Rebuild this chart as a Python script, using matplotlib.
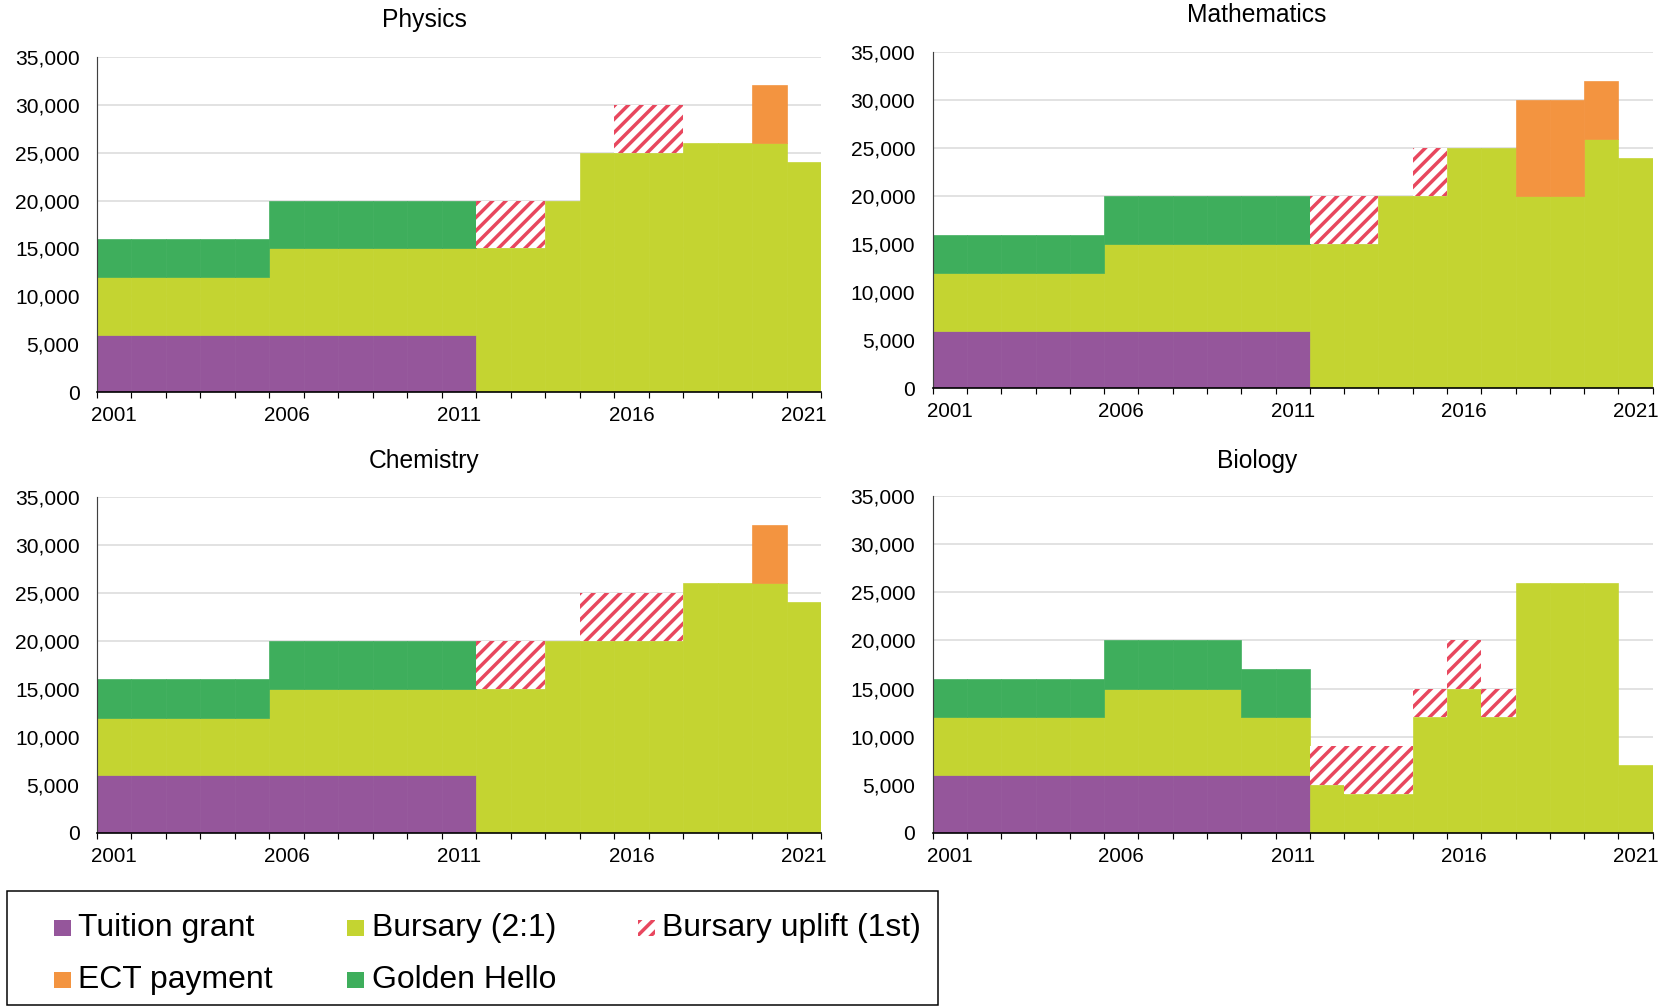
import matplotlib
matplotlib.use("Agg")
import matplotlib.pyplot as plt
from matplotlib.patches import Rectangle
from matplotlib.ticker import FixedLocator, FuncFormatter
import numpy as np

plt.rcParams['font.family'] = ['Liberation Sans', 'DejaVu Sans']
plt.rcParams['hatch.linewidth'] = 2.1

# ---------------- data ----------------
years = list(range(2001, 2022))
year_labels = ["2001", "2006", "2011", "2016", "2021"]
y_ticks = [0, 5000, 10000, 15000, 20000, 25000, 30000, 35000]

series_names = ["Tuition grant", "Bursary (2:1)", "Golden Hello", "Bursary uplift (1st)", "ECT payment"]

physics_tuition = [6000]*11 + [0]*10
physics_bursary = [6000]*5 + [9000]*6 + [15000, 15000, 20000, 25000, 25000, 25000, 26000, 26000, 26000, 24000]
physics_golden = [4000]*5 + [5000]*6 + [0]*10
physics_uplift = [0]*11 + [5000, 5000, 0, 0, 5000, 5000, 0, 0, 0, 0]
physics_ect = [0]*19 + [6000, 0]

maths_tuition = [6000]*11 + [0]*10
maths_bursary = [6000]*5 + [9000]*6 + [15000, 15000, 20000, 20000, 25000, 25000, 20000, 20000, 26000, 24000]
maths_golden = [4000]*5 + [5000]*6 + [0]*10
maths_uplift = [0]*11 + [5000, 5000, 0, 5000, 0, 0, 0, 0, 0, 0]
maths_ect = [0]*17 + [10000, 10000, 6000, 0]

chemistry_tuition = [6000]*11 + [0]*10
chemistry_bursary = [6000]*5 + [9000]*6 + [15000, 15000, 20000, 20000, 20000, 20000, 26000, 26000, 26000, 24000]
chemistry_golden = [4000]*5 + [5000]*6 + [0]*10
chemistry_uplift = [0]*11 + [5000, 5000, 0, 5000, 5000, 5000, 0, 0, 0, 0]
chemistry_ect = [0]*19 + [6000, 0]

biology_tuition = [6000]*11 + [0]*10
biology_bursary = [6000]*5 + [9000]*4 + [6000]*2 + [5000, 4000, 4000, 12000, 15000, 12000, 26000, 26000, 26000, 7000]
biology_golden = [4000]*5 + [5000]*4 + [5000]*2 + [0]*10
biology_uplift = [0]*11 + [4000, 5000, 5000, 3000, 5000, 3000, 0, 0, 0, 0]
biology_ect = [0]*21

subjects = [
    ("Physics", [physics_tuition, physics_bursary, physics_golden, physics_uplift, physics_ect]),
    ("Mathematics", [maths_tuition, maths_bursary, maths_golden, maths_uplift, maths_ect]),
    ("Chemistry", [chemistry_tuition, chemistry_bursary, chemistry_golden, chemistry_uplift, chemistry_ect]),
    ("Biology", [biology_tuition, biology_bursary, biology_golden, biology_uplift, biology_ect]),
]

# ---------------- style ----------------
C_TUITION = "#95569B"
C_BURSARY = "#C4D431"
C_GOLDEN = "#3EAE5C"
C_UPLIFT = "#E8475E"
C_ECT = "#F39440"
HATCH = "///"
styles = [
    dict(color=C_TUITION),
    dict(color=C_BURSARY),
    dict(color=C_GOLDEN),
    dict(facecolor="white", edgecolor=C_UPLIFT, hatch=HATCH),
    dict(color=C_ECT),
]

W, H = 1665, 1006
DPI = 120
fig = plt.figure(figsize=(W / DPI, H / DPI), dpi=DPI)

def rect(l, r, t, b):
    return [l / W, 1 - b / H, (r - l) / W, (b - t) / H]

axes_px = [
    (97, 821, 56.7, 392.3),
    (932.7, 1652.7, 52.3, 388.3),
    (97, 821, 496.7, 832.7),
    (932.7, 1652.7, 496.3, 832.7),
]
title_px = [(424, 20), (1257, 15), (424, 461), (1257, 461)]

TICK_FS = 12.6
x = np.arange(len(years))

for (name, comps), box, tpos in zip(subjects, axes_px, title_px):
    ax = fig.add_axes(rect(*box))
    bottom = np.zeros(len(years))
    for vals, st in zip(comps, styles):
        v = np.array(vals, dtype=float)
        m = v > 0
        if m.any():
            if "hatch" in st:
                ax.bar(x[m], v[m], width=1.0, bottom=bottom[m], linewidth=0, **st)
            else:
                ax.bar(x[m], v[m], width=1.0, bottom=bottom[m], linewidth=0.4,
                       edgecolor=st["color"], facecolor=st["color"])
        bottom += v
    ax.set_xlim(-0.5, len(years) - 0.5)
    ax.set_ylim(0, 35000)
    ax.set_yticks(y_ticks)
    ax.yaxis.set_major_formatter(FuncFormatter(lambda v, p: f"{v:,.0f}"))
    ax.tick_params(axis="y", length=0, pad=10.5, labelsize=TICK_FS, colors="black")
    ax.set_xticks([years.index(int(s)) for s in year_labels])
    ax.set_xticklabels(year_labels)
    ax.xaxis.set_minor_locator(FixedLocator(np.arange(-0.5, len(years), 1.0)))
    ax.tick_params(axis="x", which="major", length=0, pad=8.5, labelsize=12.3)
    ax.tick_params(axis="x", which="minor", length=3.6, width=0.7, color="black", direction="out")
    ax.yaxis.grid(True, color="#D9D9D9", linewidth=0.9)
    ax.set_axisbelow(True)
    for s in ["top", "right"]:
        ax.spines[s].set_visible(False)
    ax.spines["left"].set_color("#404040")
    ax.spines["left"].set_linewidth(0.7)
    ax.spines["bottom"].set_color("black")
    ax.spines["bottom"].set_linewidth(1.0)
    fig.text(tpos[0] / W, 1 - tpos[1] / H, name, ha="center", va="center", fontsize=14.8)

# ---------------- legend ----------------
fig.add_artist(Rectangle((7 / W, 1 - 1005 / H), (938 - 7) / W, (1005 - 891) / H,
                         transform=fig.transFigure, facecolor="white", edgecolor="black",
                         linewidth=0.9, zorder=5))
legend_items = [
    (0, 54, 936), (1, 347, 936), (3, 638, 936),
    (4, 54, 988), (2, 347, 988),
]
MS = 16.5
for idx, lx, base in legend_items:
    st = styles[idx]
    if "hatch" in st:
        p = Rectangle((lx / W, 1 - base / H), MS / W, MS / H, transform=fig.transFigure,
                      facecolor="white", edgecolor=C_UPLIFT, hatch=HATCH, linewidth=0, zorder=6)
    else:
        p = Rectangle((lx / W, 1 - base / H), MS / W, MS / H, transform=fig.transFigure,
                      facecolor=st["color"], edgecolor="none", linewidth=0, zorder=6)
    fig.add_artist(p)
    fig.text((lx + MS + 8) / W, 1 - base / H, series_names[idx], ha="left", va="baseline",
             fontsize=19.1, zorder=7)

fig.savefig("out.png", dpi=DPI)
